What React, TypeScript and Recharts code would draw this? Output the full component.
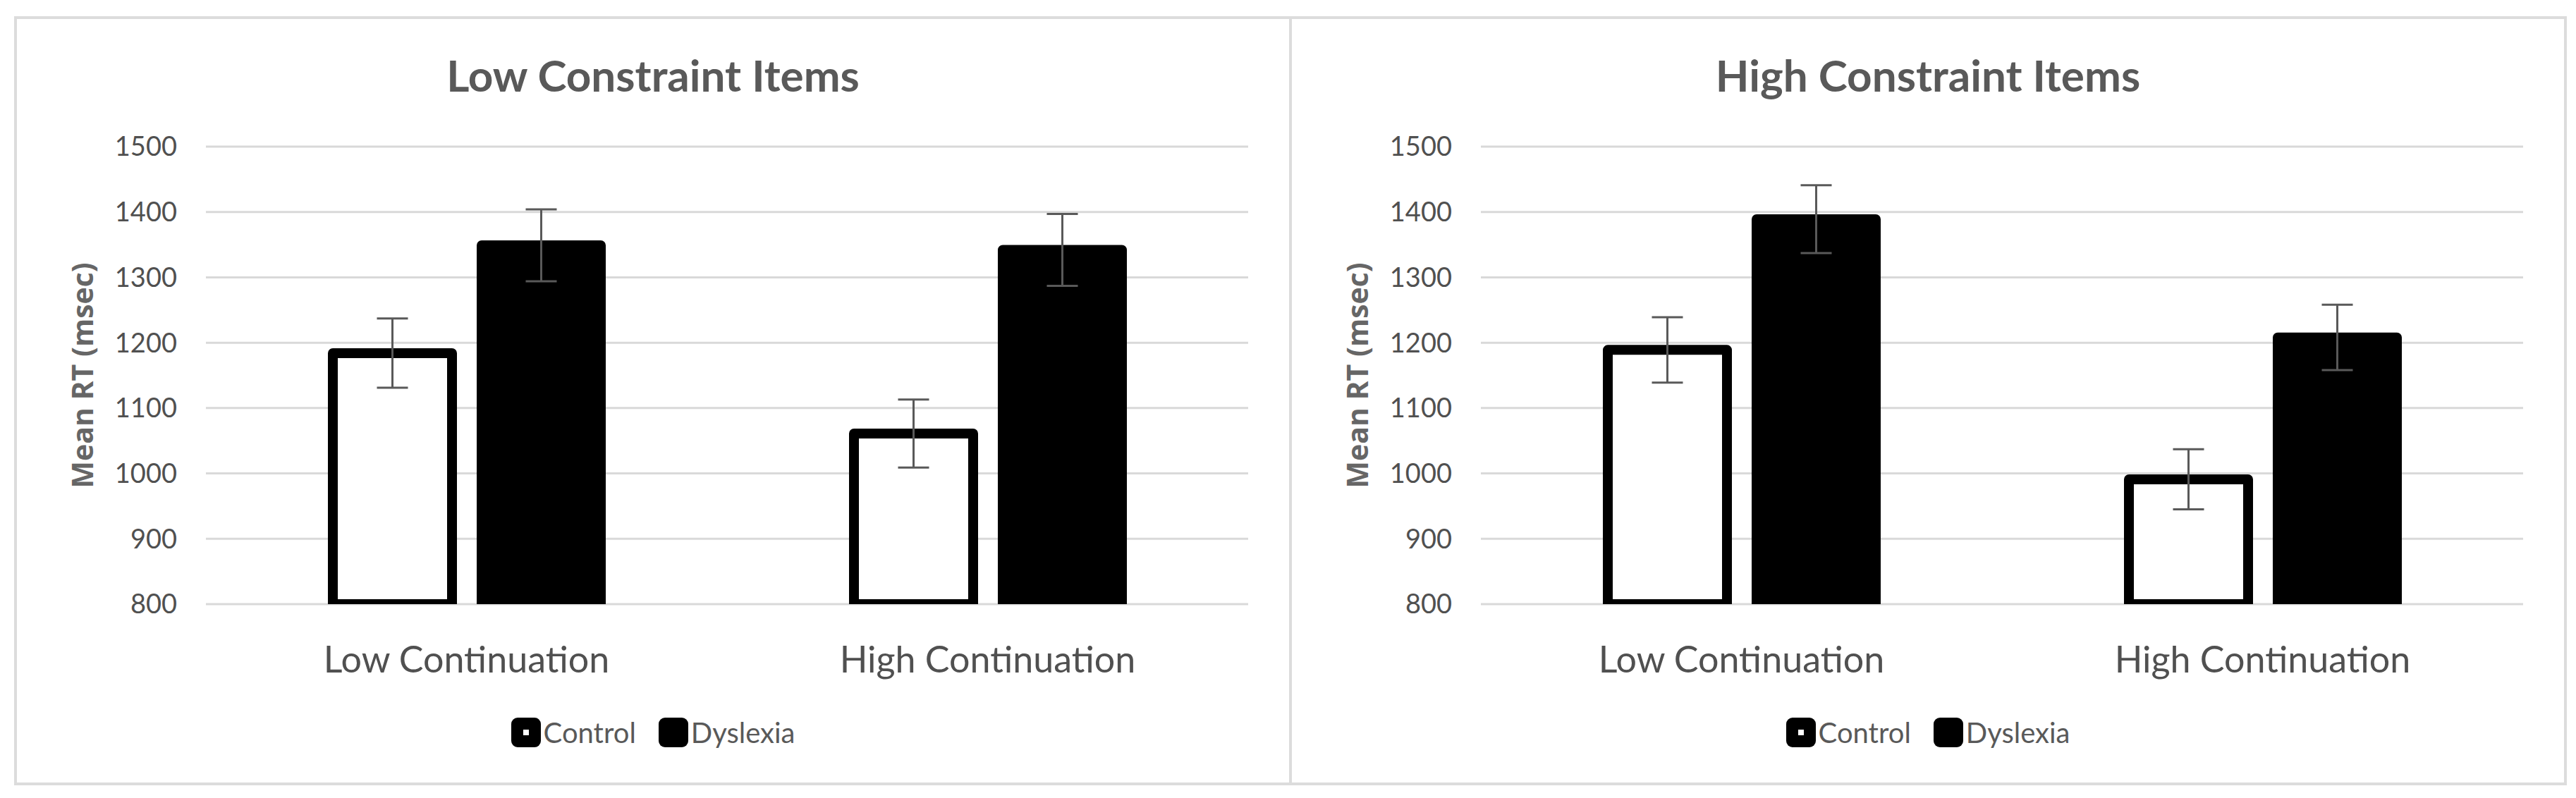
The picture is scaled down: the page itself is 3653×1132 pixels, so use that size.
import React from "react";
import {
  BarChart,
  Bar,
  XAxis,
  YAxis,
  CartesianGrid,
  ErrorBar,
  Legend,
  Label,
} from "recharts";

const categories = ["Low Continuation", "High Continuation"];
const yTicks = [800, 900, 1000, 1100, 1200, 1300, 1400, 1500];

// Low constraint items
const lowControl = [1184, 1061];
const lowControlErr = [53, 52];
const lowDyslexia = [1349, 1342];
const lowDyslexiaErr = [55, 55];

// High constraint items
const highControl = [1189, 991];
const highControlErr = [50, 46];
const highDyslexia = [1389, 1208];
const highDyslexiaErr = [52, 50];

const PANEL_W = 1812;
const PANEL_H = 1091;
const GRAY = "#595959";

function buildRows(
  control: number[],
  controlErr: number[],
  dyslexia: number[],
  dyslexiaErr: number[],
) {
  return categories.map((name, i) => ({
    name,
    control: control[i],
    controlErr: controlErr[i],
    dyslexia: dyslexia[i],
    dyslexiaErr: dyslexiaErr[i],
  }));
}

function LegendContent() {
  const items = [
    { label: "Control", hollow: true },
    { label: "Dyslexia", hollow: false },
  ];
  return (
    <div
      style={{
        display: "flex",
        justifyContent: "center",
        alignItems: "center",
        height: 44,
        gap: 32,
      }}
    >
      {items.map((it) => (
        <div
          key={it.label}
          style={{ display: "flex", alignItems: "center", gap: 4 }}
        >
          <svg width={42} height={42}>
            <rect x={0} y={0} width={42} height={42} rx={9} fill="#000" />
            {it.hollow && (
              <rect x={17} y={17} width={8} height={8} fill="#fff" />
            )}
          </svg>
          <span
            style={{
              fontFamily: "Lato",
              fontSize: 40,
              color: GRAY,
              lineHeight: "40px",
            }}
          >
            {it.label}
          </span>
        </div>
      ))}
    </div>
  );
}

function YLabel(props: any) {
  const { x, y, height } = props.viewBox;
  const cx = x + 96;
  const cy = y + height / 2;
  return (
    <text
      x={cx}
      y={cy}
      transform={`rotate(-90 ${cx} ${cy})`}
      textAnchor="middle"
      dominantBaseline="central"
      fill="#666"
      fontFamily="Open Sans"
      fontWeight={700}
      fontSize={41}
    >
      Mean RT (msec)
    </text>
  );
}

interface PanelProps {
  title: string;
  left: number;
  rows: ReturnType<typeof buildRows>;
}

function Panel({ title, left, rows }: PanelProps) {
  return (
    <div
      style={{
        position: "absolute",
        left,
        top: 23,
        width: PANEL_W,
        height: PANEL_H,
      }}
    >
      <div
        style={{
          position: "absolute",
          top: 52,
          left: 0,
          width: PANEL_W,
          textAlign: "center",
          fontFamily: "Lato",
          fontWeight: 700,
          fontSize: 62,
          lineHeight: "62px",
          color: GRAY,
        }}
      >
        {title}
      </div>
      <BarChart
        width={PANEL_W}
        height={PANEL_H}
        data={rows}
        margin={{ top: 185, right: 62, bottom: 157, left: 0 }}
        barSize={169}
        barGap={42}
      >
        <CartesianGrid vertical={false} stroke="#d9d9d9" strokeWidth={3} />
        <XAxis
          dataKey="name"
          interval={0}
          tickLine={false}
          axisLine={false}
          tickSize={0}
          tickMargin={60}
          height={100}
          tick={{ fill: "#505050", fontSize: 52, fontFamily: "Lato" }}
        />
        <YAxis
          type="number"
          domain={[800, 1500]}
          ticks={yTicks}
          interval={0}
          allowDataOverflow
          width={272}
          tickLine={false}
          axisLine={false}
          tickSize={0}
          tickMargin={41}
          tick={{ fill: "#505050", fontSize: 38, fontFamily: "Lato" }}
        >
          <Label content={<YLabel />} />
        </YAxis>
        <Legend
          verticalAlign="middle"
          align="center"
          layout="horizontal"
          content={() => <LegendContent />}
          wrapperStyle={{ top: 994, left: 0, width: PANEL_W }}
        />
        <Bar
          dataKey="control"
          name="Control"
          fill="#ffffff"
          stroke="#000000"
          strokeWidth={14}
          strokeLinejoin="round"
          isAnimationActive={false}
        >
          <ErrorBar
            dataKey="controlErr"
            width={22}
            stroke={GRAY}
            strokeWidth={3}
            direction="y"
            isAnimationActive={false}
          />
        </Bar>
        <Bar
          dataKey="dyslexia"
          name="Dyslexia"
          fill="#000000"
          stroke="#000000"
          strokeWidth={14}
          strokeLinejoin="round"
          isAnimationActive={false}
        >
          <ErrorBar
            dataKey="dyslexiaErr"
            width={22}
            stroke={GRAY}
            strokeWidth={3}
            direction="y"
            isAnimationActive={false}
          />
        </Bar>
      </BarChart>
      <div
        style={{
          position: "absolute",
          inset: 0,
          border: "4px solid #dcdcdc",
          boxSizing: "border-box",
          pointerEvents: "none",
        }}
      />
    </div>
  );
}

export default function App() {
  const lowRows = buildRows(lowControl, lowControlErr, lowDyslexia, lowDyslexiaErr);
  const highRows = buildRows(
    highControl,
    highControlErr,
    highDyslexia,
    highDyslexiaErr,
  );
  return (
    <div
      style={{
        position: "absolute",
        left: 0,
        top: 0,
        width: 3653,
        height: 1132,
        background: "#ffffff",
      }}
    >
      <Panel title="Low Constraint Items" left={20} rows={lowRows} />
      <Panel title="High Constraint Items" left={1828} rows={highRows} />
    </div>
  );
}
